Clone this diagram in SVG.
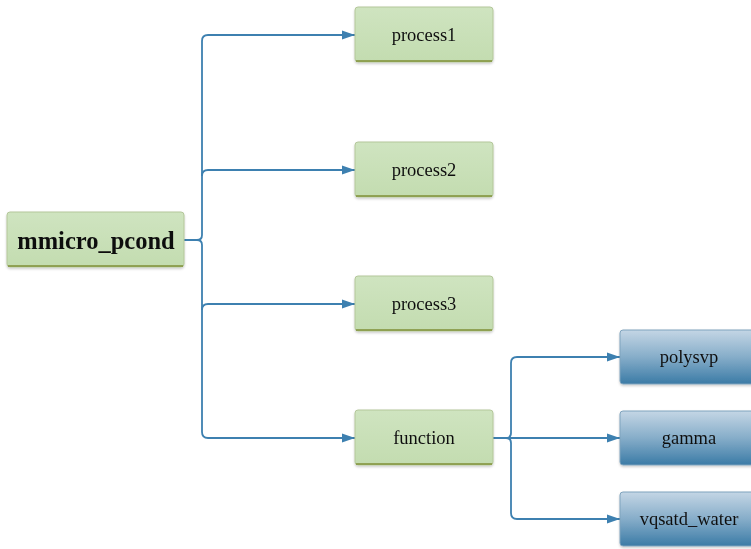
<svg xmlns="http://www.w3.org/2000/svg" width="751" height="549" viewBox="0 0 751 549">
<style>
.g{fill:url(#gg);stroke:#b4c79a;stroke-width:1}
.gb{fill:none;stroke:#7f8f36;stroke-width:1.6}
.b{fill:url(#bg);stroke:#7fa3bd;stroke-width:1}
.t{font-family:"Liberation Serif","Times New Roman",serif;font-size:18.5px;fill:#111;text-anchor:middle;dominant-baseline:central}
.root{font-size:24.5px;font-weight:bold}
.c{fill:none;stroke:#3d80b0;stroke-width:1.8}
</style>
<defs>
<linearGradient id="gg" x1="0" y1="0" x2="0" y2="1">
<stop offset="0" stop-color="#cfe4c0"/>
<stop offset="1" stop-color="#c3dcb0"/>
</linearGradient>
<linearGradient id="bg" x1="0" y1="0" x2="0" y2="1">
<stop offset="0" stop-color="#c4d6e5"/>
<stop offset="0.5" stop-color="#86adc9"/>
<stop offset="1" stop-color="#3b7ba6"/>
</linearGradient>
<marker id="ah" markerWidth="14" markerHeight="12" refX="13" refY="6" orient="auto" markerUnits="userSpaceOnUse">
<path d="M0,1.5 L13,6 L0,10.5 Z" fill="#3d80b0"/>
</marker>
<filter id="sh" x="-10%" y="-10%" width="120%" height="130%">
<feDropShadow dx="0" dy="1.5" stdDeviation="1.2" flood-color="#000" flood-opacity="0.2"/>
</filter>
</defs>
<g id="connectors">
<path class="c" d="M184,240 H197 Q202,240 202,235 V41 Q202,35 208,35 H355" marker-end="url(#ah)"/>
<path class="c" d="M197,240 Q202,240 202,245 V432 Q202,438 208,438 H355" marker-end="url(#ah)"/>
<path class="c" d="M202,176 Q202,170 208,170 H355" marker-end="url(#ah)"/>
<path class="c" d="M202,310 Q202,304 208,304 H355" marker-end="url(#ah)"/>
<path class="c" d="M493,438 H506 Q511,438 511,433 V363 Q511,357 517,357 H620" marker-end="url(#ah)"/>
<path class="c" d="M506,438 Q511,438 511,443 V513 Q511,519 517,519 H620" marker-end="url(#ah)"/>
<path class="c" d="M506,438 H620" marker-end="url(#ah)"/>
</g>
<g id="mmicro_pcond" filter="url(#sh)">
<rect class="g" x="7" y="212" width="177" height="55" rx="3"/>
<path class="gb" d="M8,266 H183"/>
<text class="t root" x="96" y="240">mmicro_pcond</text>
</g>
<g id="process1" filter="url(#sh)">
<rect class="g" x="355" y="7" width="138" height="55" rx="3"/>
<path class="gb" d="M356,61 H492"/>
<text class="t" x="424" y="35">process1</text>
</g>
<g id="process2" filter="url(#sh)">
<rect class="g" x="355" y="142" width="138" height="55" rx="3"/>
<path class="gb" d="M356,196 H492"/>
<text class="t" x="424" y="170">process2</text>
</g>
<g id="process3" filter="url(#sh)">
<rect class="g" x="355" y="276" width="138" height="55" rx="3"/>
<path class="gb" d="M356,330 H492"/>
<text class="t" x="424" y="304">process3</text>
</g>
<g id="function" filter="url(#sh)">
<rect class="g" x="355" y="410" width="138" height="55" rx="3"/>
<path class="gb" d="M356,464 H492"/>
<text class="t" x="424" y="438">function</text>
</g>
<g id="polysvp" filter="url(#sh)">
<rect class="b" x="620" y="330" width="138" height="54" rx="3"/>
<text class="t" x="689" y="357">polysvp</text>
</g>
<g id="gamma" filter="url(#sh)">
<rect class="b" x="620" y="411" width="138" height="54" rx="3"/>
<text class="t" x="689" y="438">gamma</text>
</g>
<g id="vqsatd_water" filter="url(#sh)">
<rect class="b" x="620" y="492" width="138" height="54" rx="3"/>
<text class="t" x="689" y="519">vqsatd_water</text>
</g>
</svg>
